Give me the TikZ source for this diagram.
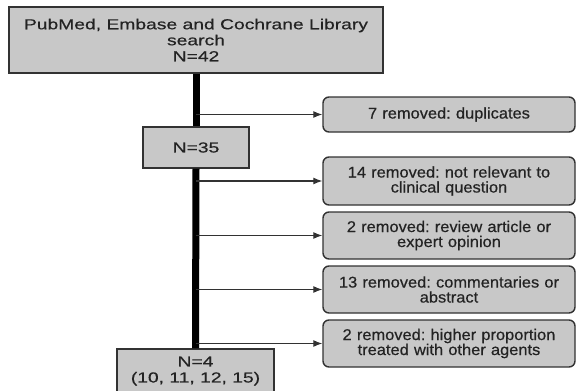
\documentclass[tikz,border=0pt]{standalone}
\usepackage{fontspec}
\usetikzlibrary{arrows.meta}
\newfontfamily\leftfont[FakeStretch=1.33,FakeBold=0.5]{Liberation Sans}
\newfontfamily\rightfont[FakeStretch=1.06,FakeBold=0.5]{Liberation Sans}
\frenchspacing
\definecolor{boxgray}{RGB}{200,200,200}
\definecolor{edgegray}{RGB}{50,50,50}
\definecolor{inkgray}{RGB}{35,35,35}
\tikzset{
  flowbox/.style={draw=edgegray,line width=1.4pt,fill=boxgray,text=inkgray,align=center,inner sep=0pt,
    font=\leftfont\fontsize{14.5}{16}\selectfont},
  dropbox/.style={flowbox,rounded corners=6pt,minimum width=252pt,text width=240pt,
    font=\rightfont\fontsize{15.5}{15}\selectfont},
  arr/.style={draw=edgegray,line width=1.1pt,-{Latex[length=9pt,width=7pt]}},
  bar/.style={line width=7pt,black}
}
\begin{document}
\begin{tikzpicture}[x=1pt,y=-1pt]
  \useasboundingbox (0,0) rectangle (576,391);
  % Main path
  \node[flowbox,minimum width=374pt,minimum height=66pt] (search) at (196,40)
    {PubMed, Embase and Cochrane Library\\search\\N=42};
  \node[flowbox,minimum width=106pt,minimum height=41pt] (n35) at (196,147.5) {N=35};
  \node[flowbox,minimum width=157pt,minimum height=44pt] (n4) at (195.5,371)
    {N=4\\(10, 11, 12, 15)};
  \draw[bar] (search.south) -- (n35.north);
  \draw[bar] (n35.south) -- (n4.north);
  % Removed
  \node[dropbox,minimum height=35pt] (r1) at (449,114.5) {7 removed: duplicates};
  \node[dropbox,minimum height=48pt] (r2) at (449,181) {14 removed: not relevant to\\clinical question};
  \node[dropbox,minimum height=47pt] (r3) at (449,235.5) {2 removed: review article or\\expert opinion};
  \node[dropbox,minimum height=47pt] (r4) at (449,289.5) {13 removed: commentaries or\\abstract};
  \node[dropbox,minimum height=47pt] (r5) at (449,343.5) {2 removed: higher proportion\\treated with other agents};
  \foreach \i in {1,...,5}
    \draw[arr] (search.south |- r\i.west) -- (r\i.west);
\end{tikzpicture}
\end{document}
